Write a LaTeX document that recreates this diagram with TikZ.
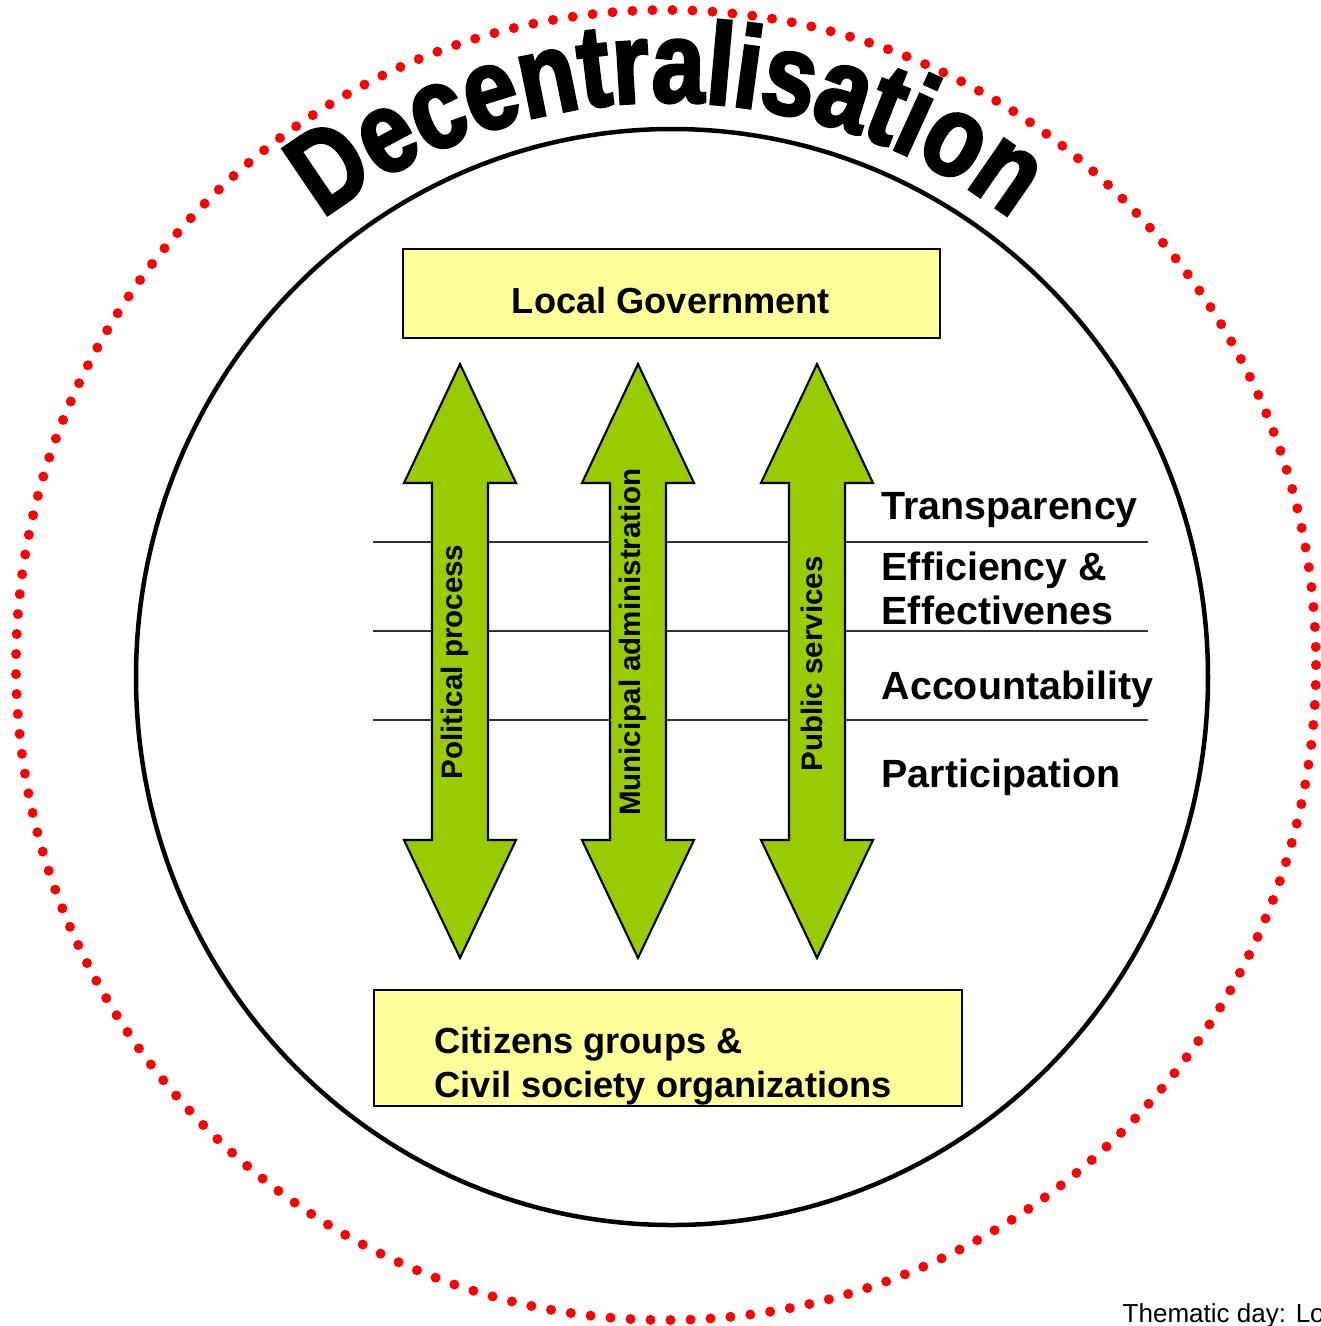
\documentclass[tikz,border=0pt]{standalone}
\usepackage{fontspec}
\setmainfont{Liberation Sans}
\newfontfamily\arcfont{Liberation Sans}[FakeStretch=0.82, FakeBold=2.5]
\usetikzlibrary{decorations.text}
\definecolor{leafgreen}{HTML}{99CC00}
\definecolor{paleyellow}{HTML}{FFFF99}
\definecolor{dotred}{HTML}{FF0000}

\begin{document}
\begin{tikzpicture}[x=0.01cm, y=-0.01cm,
		box_style/.style={rectangle,draw=black,line width=0.5pt,fill=paleyellow},
		box_text/.style={inner sep=0pt,align=left,font=\fontsize{10.3}{12.5}\selectfont\bfseries},
		arrow_style/.style={draw=black,line width=0.6pt,fill=leafgreen},
		arrow_label/.style={rotate=90,font=\fontsize{8.4}{10}\selectfont\bfseries},
		value_style/.style={anchor=west,inner sep=0pt,align=left,font=\fontsize{11.2}{12.5}\selectfont\bfseries},
		rule_style/.style={draw=black!80,line width=0.6pt}]

		\useasboundingbox (0,0) rectangle (1321,1326);

		% outer dotted ring and inner circle
		\draw[dotred, line width=0.1cm, line cap=round, dash pattern=on 0pt off 0.2cm] (666,665) ellipse [x radius=650, y radius=655];
		\draw[black, line width=0.045cm] (672,677) ellipse [x radius=536, y radius=548];

		% title on the arc
		\path[decorate, decoration={text along path, text align=center,
			text={|\arcfont\bfseries\fontsize{33}{33}\selectfont|Decentralisation}}]
			(667,666) ++(-127.5:564) arc[start angle=-127.5, end angle=-52.5, radius=564];

		% boxes
		\node[box_style, minimum width=5.37cm, minimum height=0.89cm] (gov) at (671.5,293.5) {};
		\node[box_text] (govtext) at (671,301) {Local Government};
		\node[box_style, minimum width=5.88cm, minimum height=1.16cm] (cit) at (668,1048) {};
		\node[box_text, anchor=west] (cittext) at (434,1066) {Citizens groups \&\\Civil society organizations};

		% rules
		\draw[rule_style] (373,542) -- (1148,542);
		\draw[rule_style] (373,631) -- (1148,631);
		\draw[rule_style] (373,720) -- (1148,720);

		% double arrows
		\draw[arrow_style] (460,364) -- ++(56,119) -- ++(-28,0) -- ++(0,357) -- ++(28,0) -- ++(-56,118)
			-- ++(-56,-118) -- ++(28,0) -- ++(0,-357) -- ++(-28,0) -- cycle;
		\draw[arrow_style] (638,364) -- ++(56,119) -- ++(-28,0) -- ++(0,357) -- ++(28,0) -- ++(-56,118)
			-- ++(-56,-118) -- ++(28,0) -- ++(0,-357) -- ++(-28,0) -- cycle;
		\draw[arrow_style] (817,364) -- ++(56,119) -- ++(-28,0) -- ++(0,357) -- ++(28,0) -- ++(-56,118)
			-- ++(-56,-118) -- ++(28,0) -- ++(0,-357) -- ++(-28,0) -- cycle;

		\node[arrow_label] (pol) at (455,662) {Political process};
		\node[arrow_label] (mun) at (633,642) {Municipal administration};
		\node[arrow_label] (pub) at (812,664) {Public services};

		% values
		\node[value_style] (tra) at (881,510) {Transparency};
		\node[value_style] (eff) at (881,588) {Efficiency \&\\Effectivenes};
		\node[value_style] (acc) at (881,689) {Accountability};
		\node[value_style] (par) at (881,777) {Participation};

		\node[anchor=base west, inner sep=0pt, font=\fontsize{7.4}{9}\selectfont] (foot) at (1122,1322) {Thematic day: Lo};

\end{tikzpicture}
\end{document}
